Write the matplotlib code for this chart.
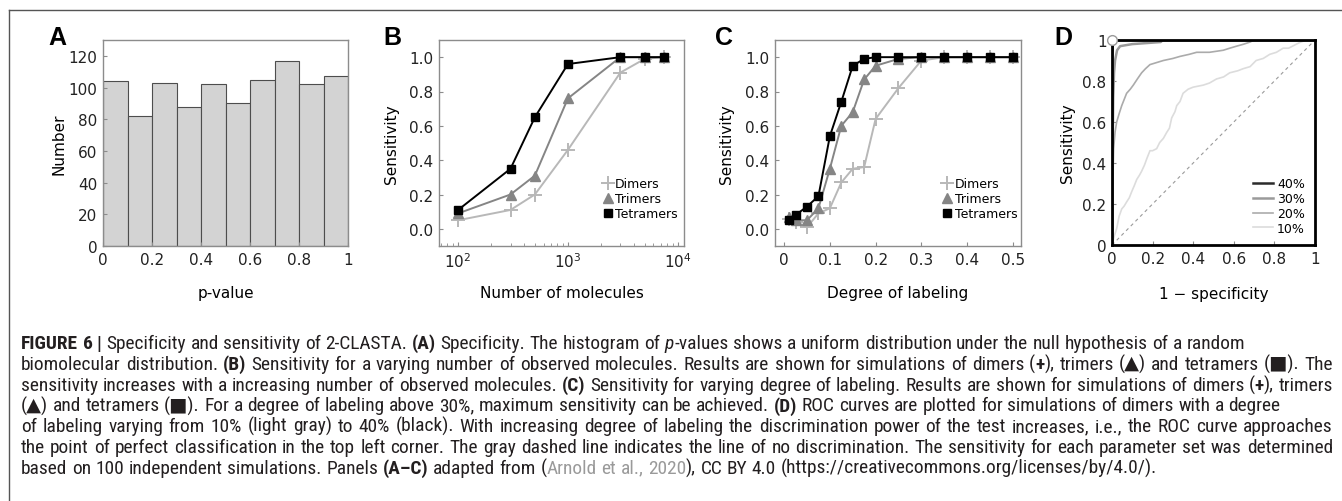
import matplotlib
matplotlib.use('Agg')
import matplotlib.pyplot as plt
from matplotlib.lines import Line2D

W, H = 1342, 502

# ---- data ----
bin_left = [0.0, 0.1, 0.2, 0.3, 0.4, 0.5, 0.6, 0.7, 0.8, 0.9]
counts = [104, 82, 103, 88, 102, 90, 105, 117, 102, 107]

n_molecules = [100, 300, 500, 1000, 3000, 5000, 7500]
b_dimers = [0.05, 0.11, 0.20, 0.46, 0.91, 0.99, 1.0]
b_trimers = [0.09, 0.20, 0.31, 0.76, 1.0, 1.0, 1.0]
b_tetramers = [0.11, 0.35, 0.65, 0.96, 1.0, 1.0, 1.0]

labeling = [0.01, 0.025, 0.05, 0.075, 0.1, 0.125, 0.15, 0.175, 0.2, 0.25, 0.3, 0.35, 0.4, 0.45, 0.5]
c_dimers = [0.06, 0.04, 0.01, 0.09, 0.12, 0.27, 0.35, 0.36, 0.64, 0.82, 0.98, 1.0, 1.0, 1.0, 1.0]
c_trimers = [0.07, 0.05, 0.05, 0.12, 0.35, 0.60, 0.68, 0.87, 0.95, 0.99, 1.0, 1.0, 1.0, 1.0, 1.0]
c_tetramers = [0.05, 0.08, 0.13, 0.19, 0.54, 0.74, 0.95, 0.99, 1.0, 1.0, 1.0, 1.0, 1.0, 1.0, 1.0]

roc40_fpr = [0, 0, 0.003, 0.01, 0.02, 1.0]
roc40_tpr = [0, 0.9, 0.97, 0.99, 1.0, 1.0]
roc30_fpr = [0, 0.003, 0.006, 0.01, 0.015, 0.025, 0.04, 0.1, 0.24, 0.25, 1.0]
roc30_tpr = [0, 0.45, 0.72, 0.84, 0.9, 0.95, 0.97, 0.98, 0.99, 1.0, 1.0]
roc20_fpr = [0, 0.004, 0.008, 0.015, 0.023, 0.035, 0.048, 0.06, 0.072, 0.09, 0.105, 0.125, 0.146,
             0.165, 0.187, 0.22, 0.253, 0.3, 0.335, 0.38, 0.417, 0.48, 0.548, 0.58, 0.614, 0.65,
             0.68, 0.70, 1.0]
roc20_tpr = [0, 0.3, 0.47, 0.55, 0.6, 0.64, 0.68, 0.71, 0.74, 0.76, 0.78, 0.81, 0.84,
             0.86, 0.88, 0.89, 0.90, 0.91, 0.92, 0.93, 0.94, 0.94, 0.95, 0.96, 0.97, 0.98,
             0.99, 1.0, 1.0]
roc10_fpr = [0, 0.01, 0.023, 0.035, 0.048, 0.06, 0.072, 0.085, 0.097, 0.11, 0.122, 0.135, 0.146,
             0.16, 0.171, 0.187, 0.2, 0.22, 0.235, 0.253, 0.27, 0.283, 0.294, 0.31, 0.319, 0.335,
             0.35, 0.375, 0.40, 0.45, 0.48, 0.515, 0.55, 0.58, 0.62, 0.646, 0.68, 0.71, 0.745,
             0.777, 0.81, 0.843, 0.87, 0.909, 0.93, 0.958, 1.0]
roc10_tpr = [0, 0.04, 0.08, 0.14, 0.176, 0.19, 0.21, 0.23, 0.26, 0.29, 0.32, 0.34, 0.36,
             0.39, 0.42, 0.46, 0.46, 0.47, 0.5, 0.52, 0.55, 0.57, 0.62, 0.65, 0.68, 0.70,
             0.74, 0.76, 0.77, 0.78, 0.79, 0.81, 0.82, 0.84, 0.85, 0.86, 0.87, 0.90, 0.91,
             0.93, 0.94, 0.96, 0.96, 0.98, 0.99, 1.0, 1.0]

caption = [
    ("**FIGURE 6 |** Specificity and sensitivity of 2-CLASTA. **(A)** Specificity. The histogram of "
     "*p*-values shows a uniform distribution under the null hypothesis of a random", False),
    ("biomolecular distribution. **(B)** Sensitivity for a varying number of observed molecules. "
     "Results are shown for simulations of dimers (**+**), trimers (\u25b2) and tetramers (\u25a0). The", True),
    ("sensitivity increases with a increasing number of observed molecules. **(C)** Sensitivity for "
     "varying degree of labeling. Results are shown for simulations of dimers (**+**), trimers", True),
    ("(\u25b2) and tetramers (\u25a0). For a degree of labeling above 30%, maximum sensitivity can be "
     "achieved. **(D)** ROC curves are plotted for simulations of dimers with a degree", False),
    ("of labeling varying from 10% (light gray) to 40% (black). With increasing degree of labeling "
     "the discrimination power of the test increases, i.e., the ROC curve approaches", True),
    ("the point of perfect classification in the top left corner. The gray dashed line indicates the "
     "line of no discrimination. The sensitivity for each parameter set was determined", True),
    ("based on 100 independent simulations. Panels **(A\u2013C)** adapted from (~Arnold et al., 2020~), "
     "CC BY 4.0 (https://creativecommons.org/licenses/by/4.0/).", False),
]

plt.rcParams['font.family'] = ['DejaVu Sans']
plt.rcParams['axes.unicode_minus'] = True
TICK = 11
LAB = 11
FRAME = '#8c8c8c'

fig = plt.figure(figsize=(W / 100, H / 100), dpi=100)


def box(l, r, t, b):
    return [l / W, 1 - b / H, (r - l) / W, (b - t) / H]


def style_axes(ax, spine_color=FRAME, lw=1.0):
    for s in ax.spines.values():
        s.set_color(spine_color)
        s.set_linewidth(lw)
    ax.tick_params(direction='in', length=3, color=FRAME, labelsize=TICK,
                   labelcolor='#222222', pad=4)
    ax.tick_params(which='minor', direction='in', length=2, color=FRAME)


def panel_letter(x, y, s):
    fig.text(x / W, 1 - y / H, s, fontsize=18, fontweight='bold', ha='center', va='center',
             family=['Liberation Sans', 'DejaVu Sans'])


# outer frame of the figure box
fig.add_artist(Line2D([9 / W, 1], [1 - 11 / H, 1 - 11 / H], color='#555555', lw=1))
fig.add_artist(Line2D([9 / W, 9 / W], [1 - 11 / H, 0], color='#555555', lw=1))

# ---- A ----
axA = fig.add_axes(box(103, 348, 41, 247))
axA.bar(bin_left, counts, width=0.1, align='edge', color='#d3d3d3', edgecolor='#4d4d4d', lw=0.8)
axA.set_xlim(0, 1)
axA.set_ylim(0, 130)
axA.set_xticks([0, 0.2, 0.4, 0.6, 0.8, 1.0], ['0', '0.2', '0.4', '0.6', '0.8', '1'])
axA.set_yticks([0, 20, 40, 60, 80, 100, 120])
style_axes(axA)
axA.set_xlabel('p-value', fontsize=LAB)
axA.set_ylabel('Number', fontsize=LAB)
axA.xaxis.set_label_coords(0.5, -0.19)
axA.yaxis.set_label_coords(-0.15, 0.5)
panel_letter(57, 38, 'A')

# ---- B ----
axB = fig.add_axes(box(439, 684, 41, 247))
axB.set_xscale('log')
axB.plot(n_molecules, b_dimers, color='#b8b8b8', marker='+', ms=10, mew=1.4, lw=1.4)
axB.plot(n_molecules, b_trimers, color='#858585', marker='^', ms=7, lw=1.4)
axB.plot(n_molecules, b_tetramers, color='black', marker='s', ms=6, lw=1.4)
axB.set_xlim(67, 11400)
axB.set_ylim(-0.1, 1.1)
axB.set_xticks([1e2, 1e3, 1e4])
axB.set_yticks([0, 0.2, 0.4, 0.6, 0.8, 1.0], ['0.0', '0.2', '0.4', '0.6', '0.8', '1.0'])
style_axes(axB)
axB.set_xlabel('Number of molecules', fontsize=LAB)
axB.set_ylabel('Sensitivity', fontsize=LAB)
axB.xaxis.set_label_coords(0.5, -0.19)
axB.yaxis.set_label_coords(-0.165, 0.5)
panel_letter(392, 38, 'B')

marker_handles = [
    Line2D([], [], ls='none', marker='+', ms=10, mew=1.4, color='#b8b8b8'),
    Line2D([], [], ls='none', marker='^', ms=7, color='#858585'),
    Line2D([], [], ls='none', marker='s', ms=6, color='black'),
]
series_names = ['Dimers', 'Trimers', 'Tetramers']
axB.legend(marker_handles, series_names, loc='lower right', bbox_to_anchor=(0.975, 0.125),
           frameon=False, fontsize=9, handlelength=0.8, handletextpad=0.2,
           labelspacing=0.15, borderpad=0, borderaxespad=0)

# ---- C ----
axC = fig.add_axes(box(775, 1021, 41, 247))
axC.plot(labeling, c_dimers, color='#b8b8b8', marker='+', ms=10, mew=1.4, lw=1.4)
axC.plot(labeling, c_trimers, color='#858585', marker='^', ms=7, lw=1.4)
axC.plot(labeling, c_tetramers, color='black', marker='s', ms=6, lw=1.4)
axC.set_xlim(-0.02, 0.518)
axC.set_ylim(-0.1, 1.1)
axC.set_xticks([0, 0.1, 0.2, 0.3, 0.4, 0.5], ['0', '0.1', '0.2', '0.3', '0.4', '0.5'])
axC.set_yticks([0, 0.2, 0.4, 0.6, 0.8, 1.0], ['0.0', '0.2', '0.4', '0.6', '0.8', '1.0'])
style_axes(axC)
axC.set_xlabel('Degree of labeling', fontsize=LAB)
axC.set_ylabel('Sensitivity', fontsize=LAB)
axC.xaxis.set_label_coords(0.5, -0.19)
axC.yaxis.set_label_coords(-0.165, 0.5)
panel_letter(724, 38, 'C')
axC.legend(marker_handles, series_names, loc='lower right', bbox_to_anchor=(0.985, 0.125),
           frameon=False, fontsize=9, handlelength=0.8, handletextpad=0.2,
           labelspacing=0.15, borderpad=0, borderaxespad=0)

# ---- D ----
axD = fig.add_axes(box(1112, 1315, 41, 246))
axD.axline((0, 0), slope=1, color='#9a9a9a', lw=0.8, ls=(0, (3, 3)))
axD.plot(roc10_fpr, roc10_tpr, color='#dcdcdc', lw=1.2, label='10%')
axD.plot(roc20_fpr, roc20_tpr, color='#ababab', lw=1.2, label='20%')
axD.plot(roc30_fpr, roc30_tpr, color='#9a9a9a', lw=1.8, label='30%')
axD.plot(roc40_fpr, roc40_tpr, color='#2b2b2b', lw=1.8, label='40%')
axD.plot([roc40_fpr[0]], [roc40_tpr[-1]], 'o', mfc='white', mec='#9a9a9a', ms=7,
         clip_on=False, zorder=10)
axD.set_xlim(0, 1)
axD.set_ylim(0, 1)
ticks01 = [0, 0.2, 0.4, 0.6, 0.8, 1.0]
labels01 = ['0', '0.2', '0.4', '0.6', '0.8', '1']
axD.set_xticks(ticks01, labels01)
axD.set_yticks(ticks01, labels01)
style_axes(axD, spine_color='black', lw=2)
axD.set_xlabel('1 \u2212 specificity', fontsize=LAB)
axD.set_ylabel('Sensitivity', fontsize=LAB)
axD.xaxis.set_label_coords(0.5, -0.2)
axD.yaxis.set_label_coords(-0.18, 0.5)
panel_letter(1063, 38, 'D')
h, l = axD.get_legend_handles_labels()
axD.legend(h[::-1], l[::-1], loc='lower right', bbox_to_anchor=(0.95, 0.05),
           frameon=False, fontsize=9, handlelength=1.6, handletextpad=0.3,
           labelspacing=0.15, borderpad=0, borderaxespad=0)

# ---- caption ----
CAP_FONT = ['Roboto Condensed', 'Liberation Sans Narrow', 'Roboto', 'DejaVu Sans']
renderer = fig.canvas.get_renderer()


def parse(markup):
    chars = []
    bold = ital = gray = False
    i = 0
    while i < len(markup):
        if markup.startswith('**', i):
            bold = not bold
            i += 2
            continue
        c = markup[i]
        if c == '*':
            ital = not ital
        elif c == '~':
            gray = not gray
        else:
            chars.append((c, (bold, ital, gray)))
        i += 1
    words, cur = [], []
    for c, st in chars:
        if c == ' ':
            if cur:
                words.append(cur)
                cur = []
            continue
        if cur and cur[-1][1] == st:
            cur[-1][0] += c
        else:
            cur.append([c, st])
    if cur:
        words.append(cur)
    return words


def props(st, size):
    bold, ital, gray = st
    return dict(fontsize=size, family=CAP_FONT, fontweight='bold' if bold else 'normal',
                fontstyle='italic' if ital else 'normal',
                color='#9a9a9a' if gray else '#231f20')


def width(s, st, size):
    t = fig.text(0, 0, s, **props(st, size))
    w = t.get_window_extent(renderer).width
    t.remove()
    return w


def word_width(word, size):
    return sum(width(s, st, size) for s, st in word)


plain = (False, False, False)
parsed = [(parse(m), j) for m, j in caption]

# scale font so the first line has the reference's width
w10 = sum(word_width(w, 10) for w in parsed[0][0])
sp10 = width('a a', plain, 10) - width('aa', plain, 10)
w10 += sp10 * (len(parsed[0][0]) - 1)
cap_size = 10 * 1215 / w10
space = width('a a', plain, cap_size) - width('aa', plain, cap_size)

x0, x1 = 21, 1333
base0, step = 349, 20.8
for k, (words, justify) in enumerate(parsed):
    widths = [word_width(w, cap_size) for w in words]
    gap = space
    if justify and len(words) > 1:
        gap = (x1 - x0 - sum(widths)) / (len(words) - 1)
    x = x0
    y = base0 + k * step
    for word, ww in zip(words, widths):
        xx = x
        for s, st in word:
            fig.text(xx / W, 1 - y / H, s, va='baseline', ha='left', **props(st, cap_size))
            xx += width(s, st, cap_size)
        x += ww + gap

fig.savefig('out.png', dpi=100)
